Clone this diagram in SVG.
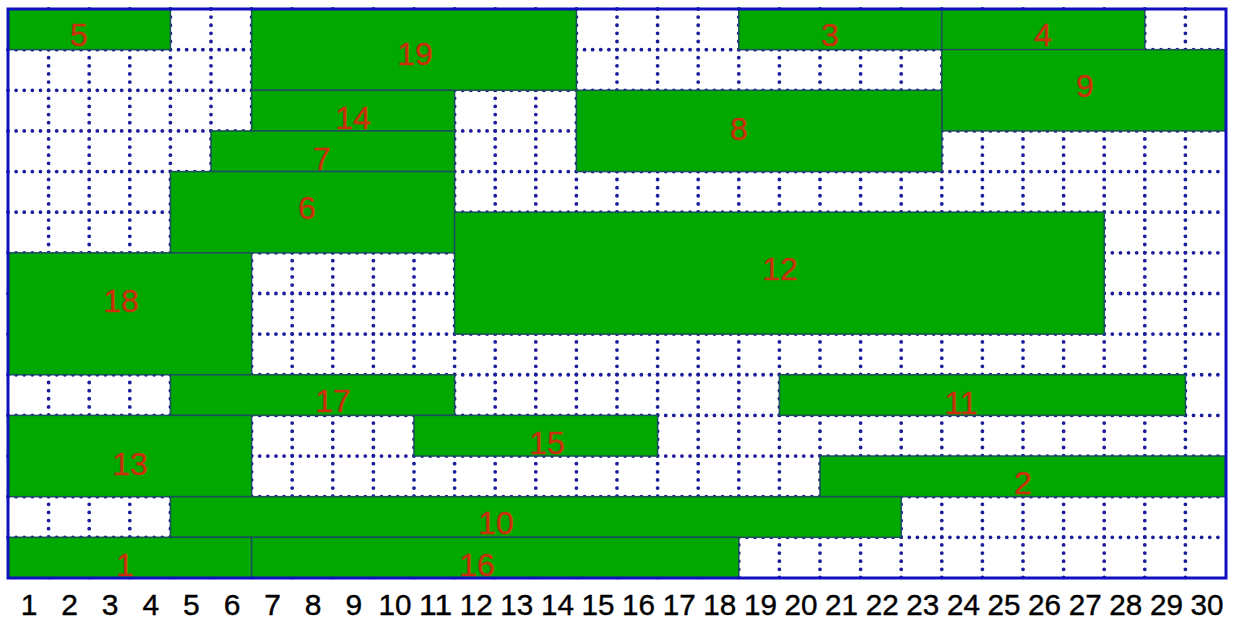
<svg xmlns="http://www.w3.org/2000/svg" width="1242" height="620" viewBox="0 0 1242 620">
<defs>
<style>
.bg{fill:#ffffff}
.grid line{stroke:#1c1c9c;stroke-width:3.8;stroke-linecap:round;stroke-dasharray:0 8.12}
.blk rect{fill:#00a800;stroke:#1b4f5a;stroke-width:1.5}
.blk text{font-family:"Liberation Sans",Arial,sans-serif;font-size:32px;fill:#c8300c;stroke:#c8300c;stroke-width:0.4;text-anchor:middle}
.ax text{font-family:"Liberation Sans",Arial,sans-serif;font-size:30px;fill:#000;stroke:#000;stroke-width:0.4;text-anchor:middle}
.frame{fill:none;stroke:#1010c0;stroke-width:3}
</style>
</defs>
<rect class="bg" x="0" y="0" width="1242" height="620"/>
<g id="grid" class="grid">
<line x1="48.6" y1="9" x2="48.6" y2="578"/><line x1="89.2" y1="9" x2="89.2" y2="578"/><line x1="129.8" y1="9" x2="129.8" y2="578"/><line x1="170.4" y1="9" x2="170.4" y2="578"/><line x1="211" y1="9" x2="211" y2="578"/><line x1="251.6" y1="9" x2="251.6" y2="578"/><line x1="292.2" y1="9" x2="292.2" y2="578"/><line x1="332.8" y1="9" x2="332.8" y2="578"/><line x1="373.4" y1="9" x2="373.4" y2="578"/><line x1="414" y1="9" x2="414" y2="578"/><line x1="454.6" y1="9" x2="454.6" y2="578"/><line x1="495.2" y1="9" x2="495.2" y2="578"/><line x1="535.8" y1="9" x2="535.8" y2="578"/><line x1="576.4" y1="9" x2="576.4" y2="578"/><line x1="617" y1="9" x2="617" y2="578"/><line x1="657.6" y1="9" x2="657.6" y2="578"/><line x1="698.2" y1="9" x2="698.2" y2="578"/><line x1="738.8" y1="9" x2="738.8" y2="578"/><line x1="779.4" y1="9" x2="779.4" y2="578"/><line x1="820" y1="9" x2="820" y2="578"/><line x1="860.6" y1="9" x2="860.6" y2="578"/><line x1="901.2" y1="9" x2="901.2" y2="578"/><line x1="941.8" y1="9" x2="941.8" y2="578"/><line x1="982.4" y1="9" x2="982.4" y2="578"/><line x1="1023" y1="9" x2="1023" y2="578"/><line x1="1063.6" y1="9" x2="1063.6" y2="578"/><line x1="1104.2" y1="9" x2="1104.2" y2="578"/><line x1="1144.8" y1="9" x2="1144.8" y2="578"/><line x1="1185.4" y1="9" x2="1185.4" y2="578"/>
<line x1="8" y1="49.64" x2="1226" y2="49.64"/><line x1="8" y1="90.28" x2="1226" y2="90.28"/><line x1="8" y1="130.92" x2="1226" y2="130.92"/><line x1="8" y1="171.56" x2="1226" y2="171.56"/><line x1="8" y1="212.2" x2="1226" y2="212.2"/><line x1="8" y1="252.84" x2="1226" y2="252.84"/><line x1="8" y1="293.48" x2="1226" y2="293.48"/><line x1="8" y1="334.12" x2="1226" y2="334.12"/><line x1="8" y1="374.76" x2="1226" y2="374.76"/><line x1="8" y1="415.4" x2="1226" y2="415.4"/><line x1="8" y1="456.04" x2="1226" y2="456.04"/><line x1="8" y1="496.68" x2="1226" y2="496.68"/><line x1="8" y1="537.32" x2="1226" y2="537.32"/>
</g>
<g class="blk">
<g id="b5"><rect x="8" y="9" width="162.4" height="40.64"/><text x="79" y="46">5</text></g>
<g id="b19"><rect x="251.6" y="9" width="324.8" height="81.28"/><text x="415" y="65">19</text></g>
<g id="b3"><rect x="738.8" y="9" width="203" height="40.64"/><text x="830" y="46">3</text></g>
<g id="b4"><rect x="941.8" y="9" width="203" height="40.64"/><text x="1043" y="46">4</text></g>
<g id="b9"><rect x="941.8" y="49.64" width="284.2" height="81.28"/><text x="1085" y="97">9</text></g>
<g id="b14"><rect x="251.6" y="90.28" width="203" height="40.64"/><text x="353" y="129">14</text></g>
<g id="b8"><rect x="576.4" y="90.28" width="365.4" height="81.28"/><text x="739" y="140">8</text></g>
<g id="b7"><rect x="211" y="130.92" width="243.6" height="40.64"/><text x="322" y="170">7</text></g>
<g id="b6"><rect x="170.4" y="171.56" width="284.2" height="81.28"/><text x="307" y="219">6</text></g>
<g id="b12"><rect x="454.6" y="212.2" width="649.6" height="121.92"/><text x="780" y="280">12</text></g>
<g id="b18"><rect x="8" y="252.84" width="243.6" height="121.92"/><text x="121" y="312">18</text></g>
<g id="b17"><rect x="170.4" y="374.76" width="284.2" height="40.64"/><text x="333" y="412">17</text></g>
<g id="b11"><rect x="779.4" y="374.76" width="406" height="40.64"/><text x="961" y="414">11</text></g>
<g id="b13"><rect x="8" y="415.4" width="243.6" height="81.28"/><text x="130" y="475">13</text></g>
<g id="b15"><rect x="414" y="415.4" width="243.6" height="40.64"/><text x="547" y="454">15</text></g>
<g id="b2"><rect x="820" y="456.04" width="406" height="40.64"/><text x="1023" y="494">2</text></g>
<g id="b10"><rect x="170.4" y="496.68" width="730.8" height="40.64"/><text x="496" y="534">10</text></g>
<g id="b1"><rect x="8" y="537.32" width="243.6" height="40.64"/><text x="125" y="576">1</text></g>
<g id="b16"><rect x="251.6" y="537.32" width="487.2" height="40.64"/><text x="477" y="576">16</text></g>
</g>
<rect class="frame" x="8" y="9" width="1218" height="569"/>
<g id="axis" class="ax">
<text x="29" y="615">1</text>
<text x="69.6" y="615">2</text>
<text x="110.2" y="615">3</text>
<text x="150.8" y="615">4</text>
<text x="191.4" y="615">5</text>
<text x="232" y="615">6</text>
<text x="272.6" y="615">7</text>
<text x="313.2" y="615">8</text>
<text x="353.8" y="615">9</text>
<text x="395" y="615" textLength="33" lengthAdjust="spacingAndGlyphs">10</text>
<text x="435.6" y="615" textLength="33" lengthAdjust="spacingAndGlyphs">11</text>
<text x="476.2" y="615" textLength="33" lengthAdjust="spacingAndGlyphs">12</text>
<text x="516.8" y="615" textLength="33" lengthAdjust="spacingAndGlyphs">13</text>
<text x="557.4" y="615" textLength="33" lengthAdjust="spacingAndGlyphs">14</text>
<text x="598" y="615" textLength="33" lengthAdjust="spacingAndGlyphs">15</text>
<text x="638.6" y="615" textLength="33" lengthAdjust="spacingAndGlyphs">16</text>
<text x="679.2" y="615" textLength="33" lengthAdjust="spacingAndGlyphs">17</text>
<text x="719.8" y="615" textLength="33" lengthAdjust="spacingAndGlyphs">18</text>
<text x="760.4" y="615" textLength="33" lengthAdjust="spacingAndGlyphs">19</text>
<text x="801" y="615" textLength="33" lengthAdjust="spacingAndGlyphs">20</text>
<text x="841.6" y="615" textLength="33" lengthAdjust="spacingAndGlyphs">21</text>
<text x="882.2" y="615" textLength="33" lengthAdjust="spacingAndGlyphs">22</text>
<text x="922.8" y="615" textLength="33" lengthAdjust="spacingAndGlyphs">23</text>
<text x="963.4" y="615" textLength="33" lengthAdjust="spacingAndGlyphs">24</text>
<text x="1004" y="615" textLength="33" lengthAdjust="spacingAndGlyphs">25</text>
<text x="1044.6" y="615" textLength="33" lengthAdjust="spacingAndGlyphs">26</text>
<text x="1085.2" y="615" textLength="33" lengthAdjust="spacingAndGlyphs">27</text>
<text x="1125.8" y="615" textLength="33" lengthAdjust="spacingAndGlyphs">28</text>
<text x="1166.4" y="615" textLength="33" lengthAdjust="spacingAndGlyphs">29</text>
<text x="1207" y="615" textLength="33" lengthAdjust="spacingAndGlyphs">30</text>
</g>
</svg>
